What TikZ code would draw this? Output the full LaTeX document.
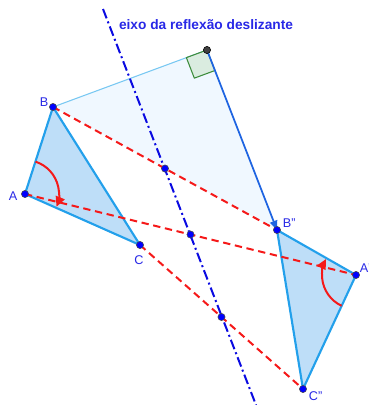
\documentclass[tikz,border=0pt]{standalone}
\usepackage{fontspec}
\setmainfont{Liberation Sans}
\usetikzlibrary{calc,arrows.meta}
\definecolor{triedge}{RGB}{35,160,235}
\definecolor{trifill}{RGB}{190,222,248}
\definecolor{vecblue}{RGB}{30,100,225}
\definecolor{perpline}{RGB}{120,200,242}
\definecolor{quadfill}{RGB}{240,248,255}
\definecolor{dashred}{RGB}{245,25,25}
\definecolor{axisblue}{RGB}{10,10,225}
\definecolor{labblue}{RGB}{40,40,230}
\definecolor{sqgreen}{RGB}{60,140,60}
\definecolor{sqfill}{RGB}{218,236,224}

\begin{document}
\begin{tikzpicture}[x=0.75pt,y=-0.75pt,line join=round,
  every node/.style={inner sep=0pt,outer sep=0pt},
  tri/.style={draw=triedge,fill=trifill,line width=1.6pt},
  segred/.style={draw=dashred,line width=1.5pt,dash pattern=on 5.5pt off 3.5pt},
  eixo/.style={draw=axisblue,line width=1.5pt,dash pattern=on 7.5pt off 2.5pt on 1.5pt off 2.5pt},
  rot/.style={draw=dashred,line width=1.5pt,-{Triangle[length=7.5pt,width=7pt]}},
  lab/.style={text=labblue,font=\fontsize{9.5pt}{11pt}\selectfont},
  pto/.style={fill=blue,draw=black!70,line width=0.4pt}]
  \path[use as bounding box] (0,0) rectangle (369,405); % canvas 369x405px
  % ---- vertices (source px) ----
  \coordinate (B)  at ( 53,107);
  \coordinate (A)  at ( 25,194);
  \coordinate (C)  at (140,245);
  \coordinate (B2) at (277,230);
  \coordinate (A2) at (356,275);
  \coordinate (C2) at (303,389);
  \coordinate (P)  at (207, 50);  % reflection of B
  % ---- midpoints on the axis ----
  \coordinate (MB) at ($(B)!0.5!(B2)$);
  \coordinate (MA) at ($(A)!0.5!(A2)$);
  \coordinate (MC) at ($(C)!0.5!(C2)$);
  \coordinate (E1) at (103,  9);
  \coordinate (E2) at (256,405);
  % ---- right-angle mark corners ----
  \coordinate (S1) at ($(P)!16.5pt!(B)$);
  \coordinate (S2) at ($(P)!16.5pt!(B2)$);
  \coordinate (S3) at ($(S1)+(S2)-(P)$);
  % ---- reflection + translation ----
  \fill[quadfill] (B) -- (P) -- (B2) -- cycle;
  \draw[perpline,line width=0.8pt] (B) -- (P);
  \filldraw[sqgreen,fill=sqfill,line width=0.8pt] (P) -- (S1) -- (S3) -- (S2) -- cycle;
  \draw[vecblue,line width=1.3pt,-{Triangle[length=7pt,width=5.5pt]}] (P) -- (B2);
  % ---- triangles ----
  \path[tri] (A) -- (B) -- (C) -- cycle;
  \path[tri] (A2) -- (B2) -- (C2) -- cycle;
  % ---- axis ----
  \path[eixo] (E1) -- (E2);
  \node[anchor=base west,text=labblue,font=\bfseries\fontsize{10.3pt}{12pt}\selectfont] (tit) at (119,29) {eixo da reflexão deslizante};
  % ---- dashed segments ----
  \path[segred] (B) -- (B2);
  \path[segred] (A) -- (A2);
  \path[segred] (C) -- (C2);
  % ---- orientation arcs ----
  \draw[rot] (A) ++(72:25.5pt) arc[start angle=72,end angle=-22,radius=25.5pt];
  \draw[rot] (A2) ++(245:25.5pt) arc[start angle=245,end angle=152,radius=25.5pt];
  % ---- points ----
  \foreach \p in {A,B,C,A2,B2,C2,MA,MB,MC} \filldraw[pto] (\p) circle[radius=2.7pt];
  \filldraw[fill=black!75,draw=black] (P) circle[radius=2.7pt];
  % ---- labels ----
  \node[lab] (lB)  at ( 44,102) {B};
  \node[lab] (lA)  at ( 13,196) {A};
  \node[lab] (lC)  at (139,260) {C};
  \node[lab,anchor=west] (lB2) at (283,223) {B''};
  \node[lab,anchor=west] (lA2) at (360,268) {A''};
  \node[lab,anchor=west] (lC2) at (309,396) {C''};
\end{tikzpicture}
\end{document}
